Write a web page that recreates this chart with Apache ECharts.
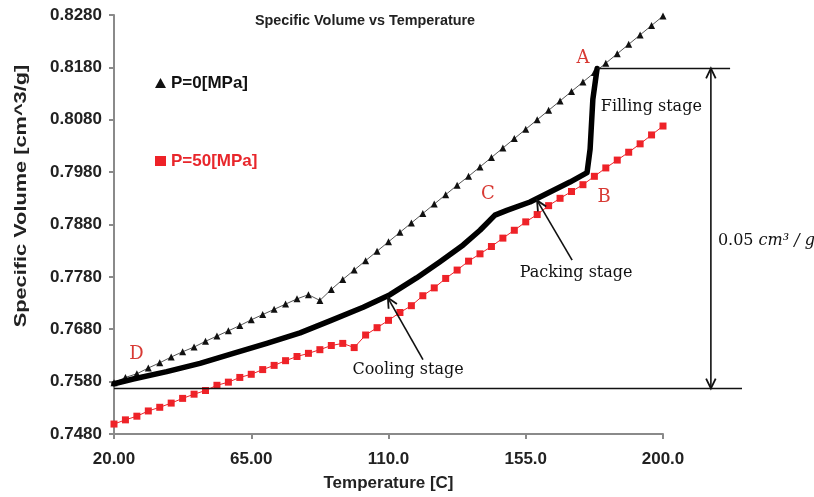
<!DOCTYPE html>
<html>
<head>
<meta charset="utf-8">
<script src="https://cdn.jsdelivr.net/npm/echarts@6/dist/echarts.min.js"></script>
<style>
  html, body { margin: 0; padding: 0; background: #fff; }
  #main { width: 814px; height: 497px; }
</style>
</head>
<body>
<div id="main"></div>
<script>
// sampled temperatures (C) for both pressure curves
const temps = [20, 23.75, 27.5, 31.25, 35, 38.75, 42.5, 46.25, 50, 53.75,
  57.5, 61.25, 65, 68.75, 72.5, 76.25, 80, 83.75, 87.5, 91.25,
  95, 98.75, 102.5, 106.25, 110, 113.75, 117.5, 121.25, 125, 128.75,
  132.5, 136.25, 140, 143.75, 147.5, 151.25, 155, 158.75, 162.5, 166.25,
  170, 173.75, 177.5, 181.25, 185, 188.75, 192.5, 196.25, 200];

// specific volume at P=0 MPa
const volP0 = [0.7578, 0.7588, 0.7595, 0.7606, 0.7616, 0.7627, 0.7637, 0.7646, 0.7657, 0.7667,
  0.7677, 0.7687, 0.7698, 0.7708, 0.7718, 0.7728, 0.7738, 0.7746, 0.7735, 0.7756,
  0.7775, 0.7793, 0.7811, 0.7829, 0.7847, 0.7865, 0.7883, 0.7901, 0.7919, 0.7937,
  0.7955, 0.7972, 0.7990, 0.8008, 0.8026, 0.8044, 0.8062, 0.8080, 0.8098, 0.8116,
  0.8134, 0.8152, 0.8170, 0.8188, 0.8206, 0.8224, 0.8242, 0.8260, 0.8278];

// specific volume at P=50 MPa
const volP50 = [0.7499, 0.7507, 0.7514, 0.7524, 0.7531, 0.7539, 0.7548, 0.7556, 0.7563, 0.7573,
  0.7579, 0.7588, 0.7594, 0.7603, 0.7611, 0.7620, 0.7628, 0.7634, 0.7641, 0.7649,
  0.7653, 0.7645, 0.7669, 0.7683, 0.7697, 0.7712, 0.7725, 0.7744, 0.7759, 0.7777,
  0.7793, 0.7810, 0.7824, 0.7838, 0.7854, 0.7869, 0.7885, 0.7899, 0.7916, 0.7930,
  0.7943, 0.7956, 0.7972, 0.7988, 0.8003, 0.8018, 0.8034, 0.8051, 0.8068];

// process path D -> C -> B -> A (thick black curve)
const pathTemps = [20, 26.3, 37.3, 48.2, 59.1, 70.1, 81.0, 90.8, 101.7, 110.5,
  119.2, 126.9, 134.5, 140.0, 144.9, 148.8, 156.4, 169.5, 175.1, 176.1, 177.0, 178.4];
const pathVols = [0.7576, 0.7585, 0.7599, 0.7615, 0.7634, 0.7653, 0.7673, 0.7696, 0.7722, 0.7746,
  0.7778, 0.7809, 0.7841, 0.7869, 0.7898, 0.7907, 0.7923, 0.7961, 0.7979, 0.8024, 0.8119, 0.8178];

const seriesNames = ['P=0[MPa]', 'P=50[MPa]'];
const xMin = 20, xMax = 200, xStep = 45;
const yMin = 0.748, yMax = 0.828, yStep = 0.01;

const zip = (xs, ys) => xs.map((x, i) => [x, ys[i]]);

const chart = echarts.init(document.getElementById('main'), null, { renderer: 'canvas' });

const axisGray = '#8a8a8a';
const labelFont = { fontFamily: 'Liberation Sans', fontWeight: 'bold', fontSize: 17, color: '#222' };

chart.setOption({
  animation: false,
  backgroundColor: '#fff',
  title: {
    text: 'Specific Volume vs Temperature',
    left: 360, top: 9, textAlign: 'center',
    textStyle: { fontFamily: 'Liberation Sans', fontWeight: 'bold', fontSize: 14.4, color: '#222' }
  },
  legend: {
    orient: 'vertical', left: 150, top: 69,
    itemWidth: 11, itemHeight: 10, itemGap: 60,
    selectedMode: false,
    textStyle: { fontFamily: 'Liberation Sans', fontWeight: 'bold', fontSize: 17, lineHeight: 18 },
    data: [
      { name: seriesNames[0], icon: 'triangle', textStyle: { color: '#111' } },
      { name: seriesNames[1], icon: 'rect', textStyle: { color: '#e8262b' } }
    ]
  },
  grid: { left: 114, right: 151, top: 15, bottom: 60 },
  xAxis: {
    type: 'value', min: xMin, max: xMax, interval: xStep,
    name: 'Temperature [C]', nameLocation: 'middle', nameGap: 41,
    nameTextStyle: labelFont,
    axisLine: { lineStyle: { color: axisGray, width: 2 } },
    axisTick: { length: 5, lineStyle: { color: axisGray, width: 2 } },
    axisLabel: Object.assign({ margin: 17, formatter: v => v.toPrecision(4) }, labelFont),
    splitLine: { show: false }
  },
  yAxis: {
    type: 'value', min: yMin, max: yMax, interval: yStep,
    axisLine: { show: true, lineStyle: { color: axisGray, width: 2 } },
    axisTick: { show: true, length: 5, lineStyle: { color: axisGray, width: 2 } },
    axisLabel: Object.assign({ margin: 12, formatter: v => v.toFixed(4) }, labelFont),
    splitLine: { show: false }
  },
  series: [
    {
      name: seriesNames[0], type: 'line', data: zip(temps, volP0),
      symbol: 'triangle', symbolSize: 7,
      itemStyle: { color: '#111' },
      lineStyle: { color: '#555', width: 1 }
    },
    {
      name: seriesNames[1], type: 'line', data: zip(temps, volP50),
      symbol: 'rect', symbolSize: 7,
      itemStyle: { color: '#ee2228' },
      lineStyle: { color: '#ee2228', width: 1 }
    },
    {
      name: 'process', type: 'line', data: zip(pathTemps, pathVols),
      symbol: 'none', z: 5,
      lineStyle: { color: '#000', width: 5.5, join: 'round', cap: 'round' }
    }
  ]
});

// annotations: reference lines, arrows and stage labels, placed in data space
function notes() {
  const P = (t, v) => chart.convertToPixel({ gridIndex: 0 }, [t, v]);
  const ink = '#111';
  const red = '#d83a34';
  const serif = '"DejaVu Serif"';
  const g = [];

  const line = (a, b, w) => g.push({
    type: 'line', z: 10,
    shape: { x1: a[0], y1: a[1], x2: b[0], y2: b[1] },
    style: { stroke: ink, lineWidth: w || 1.5 }
  });
  const head = (from, tip) => {
    const dx = tip[0] - from[0], dy = tip[1] - from[1];
    const L = Math.hypot(dx, dy), bx = -dx / L, by = -dy / L;
    const h = 11, ang = 0.45;
    const r = s => [tip[0] + h * (bx * Math.cos(s) - by * Math.sin(s)),
                    tip[1] + h * (bx * Math.sin(s) + by * Math.cos(s))];
    g.push({
      type: 'polyline', z: 10,
      shape: { points: [r(ang), tip, r(-ang)] },
      style: { stroke: ink, lineWidth: 1.8, fill: null }
    });
  };
  const arrow = (from, tip) => { line(from, tip, 1.6); head(from, tip); };
  const text = (p, s, opt) => g.push({
    type: 'text', z: 10, x: p[0], y: p[1],
    style: Object.assign({
      text: s, font: '16px ' + serif, fill: ink,
      align: 'center', verticalAlign: 'middle'
    }, opt || {})
  });

  // 0.05 cm3/g gap between A level and D level
  const topY = 0.8178, botY = 0.7567;
  line(P(178.4, topY), P(222.0, topY));
  line(P(20, botY), P(225.9, botY));
  const va = P(215.7, topY), vb = P(215.7, botY);
  line(va, vb, 1.6);
  head(vb, va);
  head(va, vb);

  arrow(P(121.3, 0.7622), P(109.8, 0.7740));
  arrow(P(170.2, 0.7812), P(158.7, 0.7926));

  text(P(173.8, 0.8198), 'A', { fill: red, font: '18px ' + serif });
  text(P(180.7, 0.7931), 'B', { fill: red, font: '18px ' + serif });
  text(P(142.6, 0.7937), 'C', { fill: red, font: '18px ' + serif });
  text(P(27.4, 0.7632), 'D', { fill: red, font: '18px ' + serif });

  text(P(179.6, 0.8104), 'Filling stage', { align: 'left' });
  text(P(171.5, 0.7787), 'Packing stage');
  text(P(116.4, 0.7603), 'Cooling stage');
  text(P(218.0, 0.7848), '0.05 {i|cm³ / g}', {
    align: 'left',
    rich: { i: { font: 'italic 16px ' + serif, fill: ink } }
  });

  // y axis title, letter-spaced look via horizontal stretch
  g.push({
    type: 'text', x: 21, y: 196, rotation: Math.PI / 2, scaleX: 1.28,
    style: {
      text: 'Specific Volume [cm^3/g]',
      font: 'bold 17px "Liberation Sans"', fill: '#222',
      align: 'center', verticalAlign: 'middle'
    }
  });

  chart.setOption({ graphic: g });
}
notes();
</script>
</body>
</html>
